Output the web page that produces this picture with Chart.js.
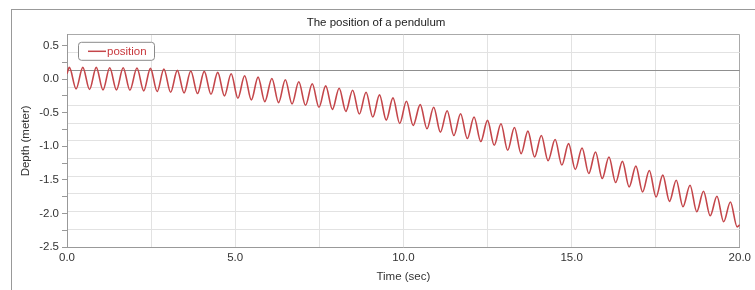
<!DOCTYPE html>
<html>
<head>
    <title>The position of a pendulum</title>
    <script src="https://cdn.jsdelivr.net/npm/chart.js"></script>
    <style>
        body {
            margin: 0;
            background: #fff;
            overflow: hidden;
        }
        #wrap {
            position: relative;
            width: 755px;
            height: 290px;
        }
        #frame {
            position: absolute;
            left: 11px;
            top: 9px;
            width: 744px;
            height: 281px;
            border-top: 1px solid #999;
            border-left: 1px solid #999;
        }
        canvas {
            position: absolute;
            left: 0;
            top: 0;
        }
    </style>
</head>
<body>
    <div id="wrap">
        <div id="frame"></div>
        <canvas id="figure" width="755" height="290"></canvas>
    </div>

    <script>
        // start and end of the record
        var startTime = 0.0, startDepth = 0.08;
        var endTime = 20.0, endDepth = -2.17;

        // tops of each swing (sec, meter)
        var peakTimes = [0.07, 0.47, 0.87, 1.27, 1.67, 2.08, 2.48, 2.88, 3.28, 3.68,
            4.08, 4.48, 4.88, 5.28, 5.68, 6.09, 6.49, 6.89, 7.29, 7.69,
            8.09, 8.49, 8.89, 9.29, 9.69, 10.09, 10.50, 10.90, 11.30, 11.70,
            12.10, 12.50, 12.90, 13.30, 13.70, 14.10, 14.51, 14.91, 15.31, 15.71,
            16.11, 16.51, 16.91, 17.31, 17.71, 18.11, 18.52, 18.92, 19.32, 19.72];
        var peakDepths = [0.175, 0.175, 0.175, 0.17, 0.17, 0.165, 0.16, 0.15, 0.13, 0.12,
            0.115, 0.10, 0.08, 0.05, 0.03, 0.01, -0.01, -0.04, -0.07, -0.10,
            -0.135, -0.165, -0.195, -0.235, -0.28, -0.33, -0.38, -0.42, -0.47, -0.515,
            -0.565, -0.615, -0.665, -0.72, -0.775, -0.84, -0.9, -0.96, -1.025, -1.085,
            -1.16, -1.225, -1.295, -1.36, -1.43, -1.505, -1.58, -1.67, -1.745, -1.83];

        // bottoms of each swing
        var troughTimes = [0.27, 0.67, 1.07, 1.47, 1.87, 2.28, 2.68, 3.08, 3.48, 3.88,
            4.28, 4.68, 5.08, 5.48, 5.88, 6.29, 6.69, 7.09, 7.49, 7.89,
            8.29, 8.69, 9.09, 9.49, 9.89, 10.29, 10.70, 11.10, 11.50, 11.90,
            12.30, 12.70, 13.10, 13.50, 13.90, 14.30, 14.71, 15.11, 15.51, 15.91,
            16.31, 16.71, 17.11, 17.51, 17.91, 18.31, 18.72, 19.12, 19.52, 19.92];
        var troughDepths = [-0.145, -0.155, -0.16, -0.16, -0.165, -0.175, -0.185, -0.195, -0.205, -0.215,
            -0.225, -0.25, -0.285, -0.31, -0.335, -0.35, -0.37, -0.39, -0.42, -0.45,
            -0.48, -0.52, -0.565, -0.61, -0.66, -0.69, -0.74, -0.79, -0.84, -0.885,
            -0.93, -0.985, -1.06, -1.11, -1.16, -1.215, -1.28, -1.345, -1.405, -1.48,
            -1.54, -1.605, -1.68, -1.755, -1.82, -1.9, -1.975, -2.035, -2.125, -2.2];

        var seriesLabel = 'position';
        var lineColor = '#c4464a';

        var points = [{ x: startTime, y: startDepth }];
        for (var i = 0; i < peakTimes.length; i++) {
            points.push({ x: peakTimes[i], y: peakDepths[i] });
            points.push({ x: troughTimes[i], y: troughDepths[i] });
        }
        points.push({ x: endTime, y: endDepth });

        var fontFamily = '"Liberation Sans", Arial, sans-serif';

        // legend box sits inside the plot, top left
        var insideLegend = {
            id: 'insideLegend',
            afterDraw: function (chart) {
                var ctx = chart.ctx;
                var a = chart.chartArea;
                var x = a.left + 11, y = a.top + 7, w = 76, h = 18;
                ctx.save();
                ctx.fillStyle = '#fff';
                ctx.strokeStyle = '#8a8a8a';
                ctx.lineWidth = 1;
                ctx.beginPath();
                ctx.roundRect(x + 0.5, y + 0.5, w, h, 3);
                ctx.fill();
                ctx.stroke();
                ctx.strokeStyle = lineColor;
                ctx.lineWidth = 1.5;
                ctx.beginPath();
                ctx.moveTo(x + 10, y + 9.5);
                ctx.lineTo(x + 28, y + 9.5);
                ctx.stroke();
                ctx.fillStyle = '#c8383c';
                ctx.font = '11.5px ' + fontFamily;
                ctx.textBaseline = 'middle';
                ctx.fillText(seriesLabel, x + 29, y + 10);
                ctx.restore();
            }
        };

        var ctx = document.getElementById('figure').getContext('2d');

        new Chart(ctx, {
            type: 'line',
            data: {
                datasets: [{
                    label: seriesLabel,
                    data: points,
                    yAxisID: 'y',
                    borderColor: lineColor,
                    borderWidth: 1.6,
                    pointRadius: 0,
                    fill: false,
                    cubicInterpolationMode: 'monotone'
                }]
            },
            options: {
                responsive: false,
                animation: false,
                layout: { padding: { left: 12, right: 15, top: 0, bottom: 0 } },
                plugins: {
                    legend: { display: false },
                    tooltip: { enabled: false },
                    title: {
                        display: true,
                        text: 'The position of a pendulum',
                        color: '#222',
                        font: { family: fontFamily, size: 11.5, weight: 'normal' },
                        padding: { top: 16, bottom: 5 }
                    }
                },
                scales: {
                    x: {
                        type: 'linear',
                        position: 'bottom',
                        min: 0,
                        max: 20,
                        afterFit: function (scale) { scale.height = 43; },
                        ticks: {
                            stepSize: 2.5,
                            autoSkip: false,
                            maxRotation: 0,
                            padding: 4,
                            color: '#333',
                            font: { family: fontFamily, size: 11.5 },
                            callback: function (v) {
                                return v % 5 === 0 ? v.toFixed(1) : '';
                            }
                        },
                        grid: {
                            drawTicks: false,
                            color: function (c) {
                                return c.tick && c.tick.value === 20 ? '#aaa' : '#e2e2e2';
                            }
                        },
                        border: { color: '#999' },
                        title: {
                            display: true,
                            text: 'Time (sec)',
                            color: '#333',
                            font: { family: fontFamily, size: 11.5 },
                            padding: { top: 0, bottom: 6 }
                        }
                    },
                    y: {
                        type: 'linear',
                        position: 'left',
                        min: -2.5,
                        max: 0.66,
                        afterFit: function (scale) { scale.width = 55; },
                        ticks: {
                            stepSize: 0.25,
                            includeBounds: false,
                            autoSkip: false,
                            padding: 3,
                            color: '#333',
                            font: { family: fontFamily, size: 11.5 },
                            callback: function (v) {
                                var h = v * 2;
                                return Math.abs(h - Math.round(h)) < 1e-6 ? v.toFixed(1) : '';
                            }
                        },
                        grid: {
                            drawOnChartArea: false,
                            drawTicks: true,
                            tickLength: 5,
                            color: '#999'
                        },
                        border: { color: '#999' },
                        title: {
                            display: true,
                            text: 'Depth (meter)',
                            color: '#333',
                            font: { family: fontFamily, size: 11.5 },
                            padding: { top: 7, bottom: 0 }
                        }
                    },
                    yGrid: {
                        type: 'linear',
                        position: 'left',
                        min: -2.5,
                        max: 0.5,
                        ticks: { display: false, stepSize: 0.25 },
                        border: { display: false },
                        grid: {
                            drawTicks: false,
                            color: function (c) {
                                if (!c.tick) return '#e2e2e2';
                                if (c.tick.value === 0) return '#8f8f8f';
                                if (c.tick.value === 0.5) return '#aaa';
                                return '#e2e2e2';
                            }
                        }
                    }
                }
            },
            plugins: [insideLegend]
        });
    </script>
</body>
</html>
